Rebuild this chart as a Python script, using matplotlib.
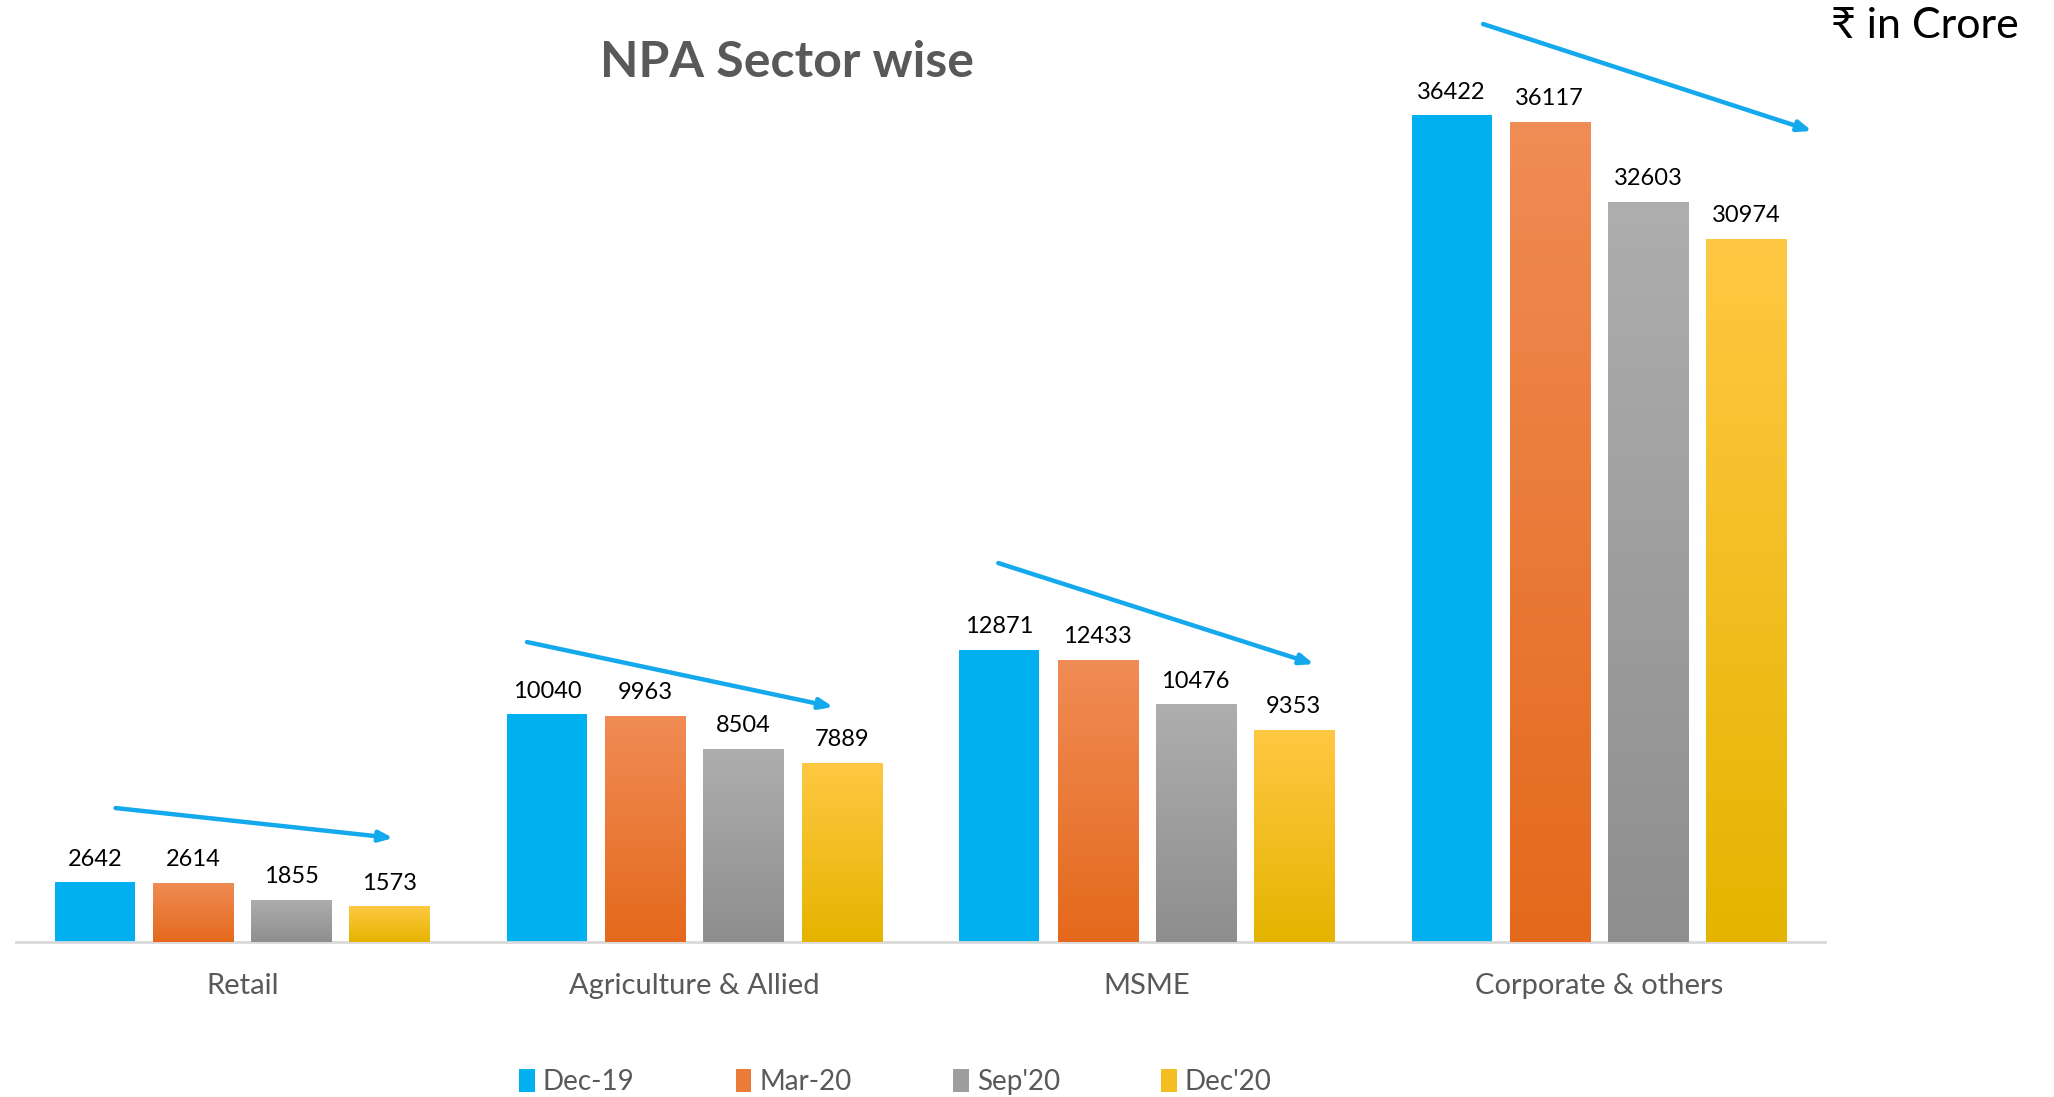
import numpy as np
import matplotlib
matplotlib.use('Agg')
import matplotlib.pyplot as plt
from matplotlib.patches import Patch
from matplotlib.colors import LinearSegmentedColormap

plt.rcParams['font.family'] = ['Lato', 'Noto Sans', 'DejaVu Sans']

sectors = ['Retail', 'Agriculture & Allied', 'MSME', 'Corporate & others']
periods = ['Dec-19', 'Mar-20', "Sep'20", "Dec'20"]
dec19 = [2642, 10040, 12871, 36422]
mar20 = [2614, 9963, 12433, 36117]
sep20 = [1855, 8504, 10476, 32603]
dec20 = [1573, 7889, 9353, 30974]
series = [dec19, mar20, sep20, dec20]

# top colour, bottom colour for each series
grads = [('#00B0F0', '#00B0F0'),
         ('#F08C55', '#E4691C'),
         ('#AEAEAE', '#8E8E8E'),
         ('#FFC843', '#E5B400')]

fig = plt.figure(figsize=(20.54, 10.97), dpi=100)
ax = fig.add_axes([0.0078, 0.1413, 0.8807, 0.8131])

x = np.arange(len(sectors))
width = 0.177
step = 0.217

for i, vals in enumerate(series):
    pos = x + (i - 1.5) * step
    top, bot = grads[i]
    bars = ax.bar(pos, vals, width, color=top, zorder=2)
    cmap = LinearSegmentedColormap.from_list('g%d' % i, [bot, top])
    grad = np.linspace(0, 1, 256).reshape(-1, 1)
    for b in bars:
        if top != bot:
            im = ax.imshow(grad, cmap=cmap, origin='lower', aspect='auto',
                           extent=[b.get_x(), b.get_x() + b.get_width(), 0, b.get_height()],
                           zorder=3)
            im.set_clip_path(b)
        ax.annotate(str(b.get_height()), (b.get_x() + b.get_width() / 2, b.get_height()),
                    xytext=(0, 9), textcoords='offset points', ha='center', va='bottom',
                    fontsize=17, color='black')

ax.set_xlim(-0.5, 3.5)
ax.set_ylim(0, 39285)
ax.set_aspect('auto')

for s in ['top', 'right', 'left']:
    ax.spines[s].set_visible(False)
ax.spines['bottom'].set_color('#D9D9D9')
ax.spines['bottom'].set_linewidth(2)
ax.set_yticks([])
ax.set_xticks(x)
ax.set_xticklabels(sectors, fontsize=21, color='#595959')
ax.tick_params(axis='x', length=0, pad=22)

# trend arrows
arrows = [((-0.28, 5900), (0.334, 4580)),
          ((0.63, 13210), (1.307, 10350)),
          ((1.672, 16690), (2.37, 12240)),
          ((2.744, 40430), (3.471, 35720))]
for a, b in arrows:
    ax.annotate('', xy=b, xytext=a, annotation_clip=False,
                arrowprops=dict(arrowstyle='-|>,head_length=0.8,head_width=0.32',
                                color='#14A8EC', lw=3.2, shrinkA=0, shrinkB=0))

fig.text(0.383, 0.943, 'NPA Sector wise', fontsize=36, fontweight='bold',
         color='#595959', ha='center', va='center')
fig.text(0.983, 0.976, '\u20b9 in Crore', fontsize=31, color='black',
         ha='right', va='center')

handles = [Patch(facecolor=grads[i][0] if i == 0 else
                 LinearSegmentedColormap.from_list('h', [grads[i][1], grads[i][0]])(0.5))
           for i in range(4)]
fig.legend(handles, periods, loc='center', bbox_to_anchor=(0.436, 0.014), ncol=4,
           frameon=False, fontsize=20, labelcolor='#595959', handlelength=0.55,
           handleheight=0.9, handletextpad=0.3, columnspacing=3.65)

fig.savefig('out.png', dpi=100)
plt.close()
